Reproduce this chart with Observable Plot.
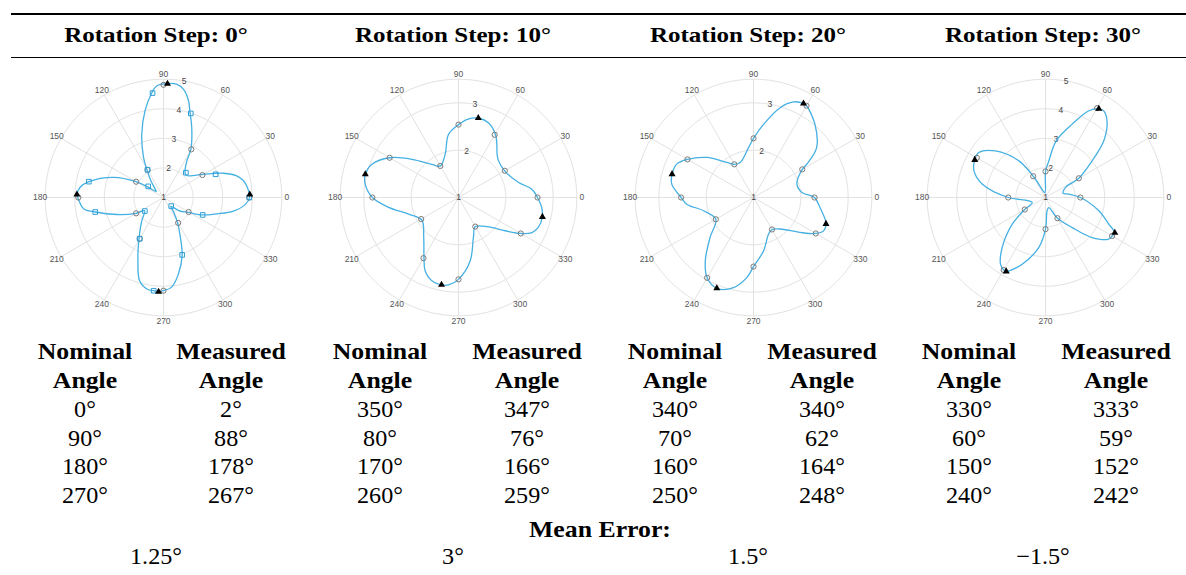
<!DOCTYPE html>
<html>
<head>
<meta charset="utf-8">
<script src="https://cdn.jsdelivr.net/npm/d3@7"></script>
<script src="https://cdn.jsdelivr.net/npm/@observablehq/plot@0.6"></script>
<style>
html,body{margin:0;padding:0;background:#fff;}
#root{position:relative;width:1186px;height:575px;overflow:hidden;font-family:"Liberation Serif","Times New Roman",serif;color:#000;}
.rule{position:absolute;left:11px;right:0;background:#000;}
.t{position:absolute;width:220px;text-align:center;white-space:nowrap;transform-origin:50% 50%;}
.h{font-weight:bold;font-size:21px;line-height:30px;height:30px;transform:scaleX(1.19);}
.b{font-size:23px;line-height:30px;height:30px;transform:scaleX(1.05);}
.bb{font-weight:bold;transform:scaleX(1.12);}
.polar{position:absolute;}
.polar svg{overflow:visible;display:block;}
</style>
</head>
<body>
<div id="root"></div>
<script>
// ---------------- data ----------------
const stepLabels = ["Rotation Step: 0°", "Rotation Step: 10°", "Rotation Step: 20°", "Rotation Step: 30°"];
const nominalAngles = [[0, 90, 180, 270], [350, 80, 170, 260], [340, 70, 160, 250], [330, 60, 150, 240]];
const measuredAngles = [[2, 88, 178, 267], [347, 76, 166, 259], [340, 62, 164, 248], [333, 59, 152, 242]];
const meanErrors = ["1.25°", "3°", "1.5°", "−1.5°"];

const rLimits = [[1, 5], [1, 3.5], [1, 3.5], [1, 5]];
const rTickValues = [[1, 2, 3, 4, 5], [1, 2, 3], [1, 2, 3], [1, 2, 3, 4, 5]];
const thetaTicks = [0, 30, 60, 90, 120, 150, 180, 210, 240, 270, 300, 330];

// grey circle markers, one every 30°
const circleRadii = [
  [3.90, 2.52, 2.88, 4.81, 2.08, 2.07, 3.88, 2.07, 2.61, 4.15, 1.99, 1.98],
  [2.67, 2.13, 2.53, 2.54, 1.77, 2.68, 2.82, 1.91, 2.48, 2.73, 1.71, 2.52],
  [2.29, 2.19, 3.24, 2.25, 1.81, 2.61, 2.53, 1.92, 2.96, 2.46, 1.78, 2.52],
  [2.18, 2.30, 4.49, 1.88, 1.83, 3.68, 2.26, 1.81, 3.83, 2.07, 1.81, 3.60]
];
// blue square markers (first plot only), one every 24°
const squareAngles = [0, 24, 48, 72, 96, 120, 144, 168, 192, 216, 240, 264, 288, 312, 336];
const squareRadii = [3.90, 2.93, 2.13, 3.99, 4.55, 2.08, 1.64, 3.58, 3.36, 1.78, 2.61, 4.17, 3.04, 1.39, 2.45];
// black triangles at measured peak angles
const peakRadii = [
  [3.92, 4.85, 3.93, 4.19],
  [2.82, 2.73, 3.03, 2.88],
  [2.63, 3.25, 2.79, 3.07],
  [3.63, 4.50, 3.71, 3.83]
];
// blue curves (angle in degrees, radius)
const curveAngles1 = [0,8,12,16.5,22,25,31,39,45,50,57.5,60.5,68,72.5,75.5,79.5,83.5,88,93.5,96.5,102,109,116.5,121,127,135,141,146,150,158,168,173,178,181,188,192,200,210,215,227,239,248,254,260,264,267,270,275,281,288,294,299,305,310,320,329,336,343,349,355];
const curveRadii1 = [3.91,3.84,3.76,3.58,3.19,2.93,2.52,2.16,2.07,2.13,2.47,2.88,3.55,3.99,4.38,4.72,4.86,4.86,4.78,4.55,4.0,3.26,2.51,2.08,1.71,1.40,1.32,1.64,2.07,2.82,3.58,3.84,3.93,3.88,3.73,3.36,2.68,2.07,1.78,2.08,2.61,3.31,3.93,4.15,4.17,4.19,4.15,4.05,3.64,3.04,2.36,1.99,1.6,1.39,1.7,1.98,2.45,2.89,3.41,3.77];
const curveAngles2 = [0,6.5,14,29,44,59,68,75.5,83,90,99,107,120,129,140.5,150,159,166.5,172,180,188,198.5,211.5,229,240.5,245.5,252.5,259.5,263.5,270,280.5,290.5,300,315.6,324.5,330,334.5,339.4,346.6,353.2];
const curveRadii2 = [2.67,2.56,2.31,2.13,2.16,2.53,2.70,2.73,2.67,2.54,2.35,1.96,1.77,1.90,2.27,2.68,2.96,3.03,2.99,2.82,2.49,2.11,1.91,2.12,2.48,2.70,2.85,2.88,2.86,2.73,2.36,1.90,1.71,1.89,2.21,2.52,2.72,2.80,2.82,2.77];
const curveAngles3 = [0,5.9,17.1,30,32,38.3,50,60,62,67.3,73.5,82.2,90,95.7,110.9,120,127.3,139.4,150,156.5,164,170.7,180,185.7,194.9,210,222.7,232.7,240,248,257.5,265.2,270,280.6,292.2,300,310.1,323.1,330,334.5,340.3,343.2,351.5];
const curveRadii3 = [2.29,2.03,1.96,2.19,2.33,2.70,3.02,3.24,3.25,3.19,2.98,2.56,2.25,2.06,1.79,1.81,1.93,2.30,2.61,2.77,2.79,2.75,2.53,2.42,2.09,1.92,2.25,2.68,2.96,3.07,2.95,2.70,2.46,2.15,1.84,1.78,1.87,2.23,2.52,2.64,2.63,2.58,2.42];
const curveAngles4 = [0,8.1,14,26.6,30,38.2,44.2,51.2,56.1,59,63.4,70,79.3,84.8,90,97.6,116.6,120,126,137,146,152,159.6,168,180,187.6,200.6,210,218.7,229,236,240,242,250.7,262.4,270,277,288,300,311.6,319.4,326.7,330,333,337.2,346];
const curveRadii4 = [2.18,1.80,1.61,1.76,2.30,3.01,3.75,4.32,4.53,4.50,4.28,3.64,2.95,2.24,1.88,1.17,1.50,1.83,2.53,3.31,3.72,3.71,3.58,3.19,2.26,1.68,1.48,1.81,2.44,3.23,3.72,3.83,3.83,3.39,2.70,2.07,1.45,1.36,1.81,2.36,3.08,3.56,3.60,3.63,3.32,2.86];
const curveAngles = [curveAngles1, curveAngles2, curveAngles3, curveAngles4];
const curveRadii = [curveRadii1, curveRadii2, curveRadii3, curveRadii4];

// ---------------- layout ----------------
const colCenters = [156, 453, 748, 1043];
const nominalCenters = [85, 380, 675, 969];
const measuredCenters = [231, 527, 822, 1116];
const plotCenters = [163.3, 458.3, 753.3, 1045.3];
const plotCenterY = 196.7;
const outerPx = 118.3;
const boxPx = 270;
const lineBlue = "#45b0e2";
const gridGrey = "#e2e2e2";

const root = document.getElementById("root");
function rule(top, h) {
  const d = document.createElement("div");
  d.className = "rule";
  d.style.top = top + "px";
  d.style.height = h + "px";
  root.appendChild(d);
}
function text(str, cx, cy, cls) {
  const d = document.createElement("div");
  d.className = "t " + cls;
  d.textContent = str;
  d.style.left = (cx - 110) + "px";
  d.style.top = (cy - 15) + "px";
  root.appendChild(d);
}
rule(13, 2);
rule(57, 1);

stepLabels.forEach((s, i) => text(s, colCenters[i], 35, "h"));
const rowsY = [410, 438.5, 467, 495.5];
for (let i = 0; i < 4; i++) {
  text("Nominal", nominalCenters[i], 352, "b bb");
  text("Angle", nominalCenters[i], 381, "b bb");
  text("Measured", measuredCenters[i], 352, "b bb");
  text("Angle", measuredCenters[i], 381, "b bb");
  nominalAngles[i].forEach((a, j) => text(a + "°", nominalCenters[i], rowsY[j], "b"));
  measuredAngles[i].forEach((a, j) => text(a + "°", measuredCenters[i], rowsY[j], "b"));
  text(meanErrors[i], colCenters[i], 557, "b");
}
text("Mean Error:", 600, 530, "b bb");

function polarChart(i) {
  const [r0, r1] = rLimits[i];
  const k = 1 / (r1 - r0);
  const half = (boxPx / 2) / outerPx;
  const P = (a, v) => {
    const t = a * Math.PI / 180, p = (v - r0) * k;
    return {x: p * Math.cos(t), y: p * Math.sin(t)};
  };
  const ringValues = rTickValues[i].filter(v => v > r0);
  if (!ringValues.includes(r1)) ringValues.push(r1);
  const rings = ringValues.flatMap(v => d3.range(0, 361, 2).map(a => ({...P(a, v), ring: v})));
  const spokes = thetaTicks.map(a => ({...P(a, r1), cx: 0, cy: 0}));
  const thetaLabels = thetaTicks.map(a => ({...P(a, r1 + (r1 - r0) * 5 / outerPx), label: String(a)}));
  const rLabels = rTickValues[i].map(v => ({...P(80, v), label: String(v)}));
  const curve = curveAngles[i].map((a, j) => P(a, curveRadii[i][j]));
  const circles = thetaTicks.map((a, j) => P(a, circleRadii[i][j]));
  const squares = i === 0 ? squareAngles.map((a, j) => P(a, squareRadii[j])) : [];
  const peaks = measuredAngles[i].map((a, j) => P(a, peakRadii[i][j]));
  return Plot.plot({
    width: boxPx, height: boxPx, margin: 0,
    style: {fontFamily: "'Liberation Sans', Arial, sans-serif", background: "transparent", overflow: "visible"},
    x: {domain: [-half, half], axis: null},
    y: {domain: [-half, half], axis: null},
    marks: [
      Plot.line(rings, {x: "x", y: "y", z: "ring", stroke: gridGrey, strokeWidth: 1}),
      Plot.link(spokes, {x1: "cx", y1: "cy", x2: "x", y2: "y", stroke: gridGrey, strokeWidth: 1}),
      Plot.text(thetaLabels, {x: "x", y: "y", text: "label", fill: "#555", fontSize: 8.5}),
      Plot.text(rLabels, {x: "x", y: "y", text: "label", fill: "#444", fontSize: 8.5}),
      Plot.line(curve, {x: "x", y: "y", curve: "catmull-rom-closed", stroke: lineBlue, strokeWidth: 1.3}),
      Plot.dot(circles, {x: "x", y: "y", symbol: "circle", r: 2.6, stroke: "#7a7a7a", fill: "none", strokeWidth: 1}),
      Plot.dot(squares, {x: "x", y: "y", symbol: "square", r: 2.6, stroke: "#2f9fd8", fill: "none", strokeWidth: 1}),
      Plot.dot(peaks, {x: "x", y: "y", symbol: "triangle", r: 2.6, fill: "#000", stroke: "none"})
    ]
  });
}

for (let i = 0; i < 4; i++) {
  const wrap = document.createElement("div");
  wrap.className = "polar";
  wrap.style.left = (plotCenters[i] - boxPx / 2) + "px";
  wrap.style.top = (plotCenterY - boxPx / 2) + "px";
  wrap.appendChild(polarChart(i));
  root.appendChild(wrap);
}
</script>
</body>
</html>
